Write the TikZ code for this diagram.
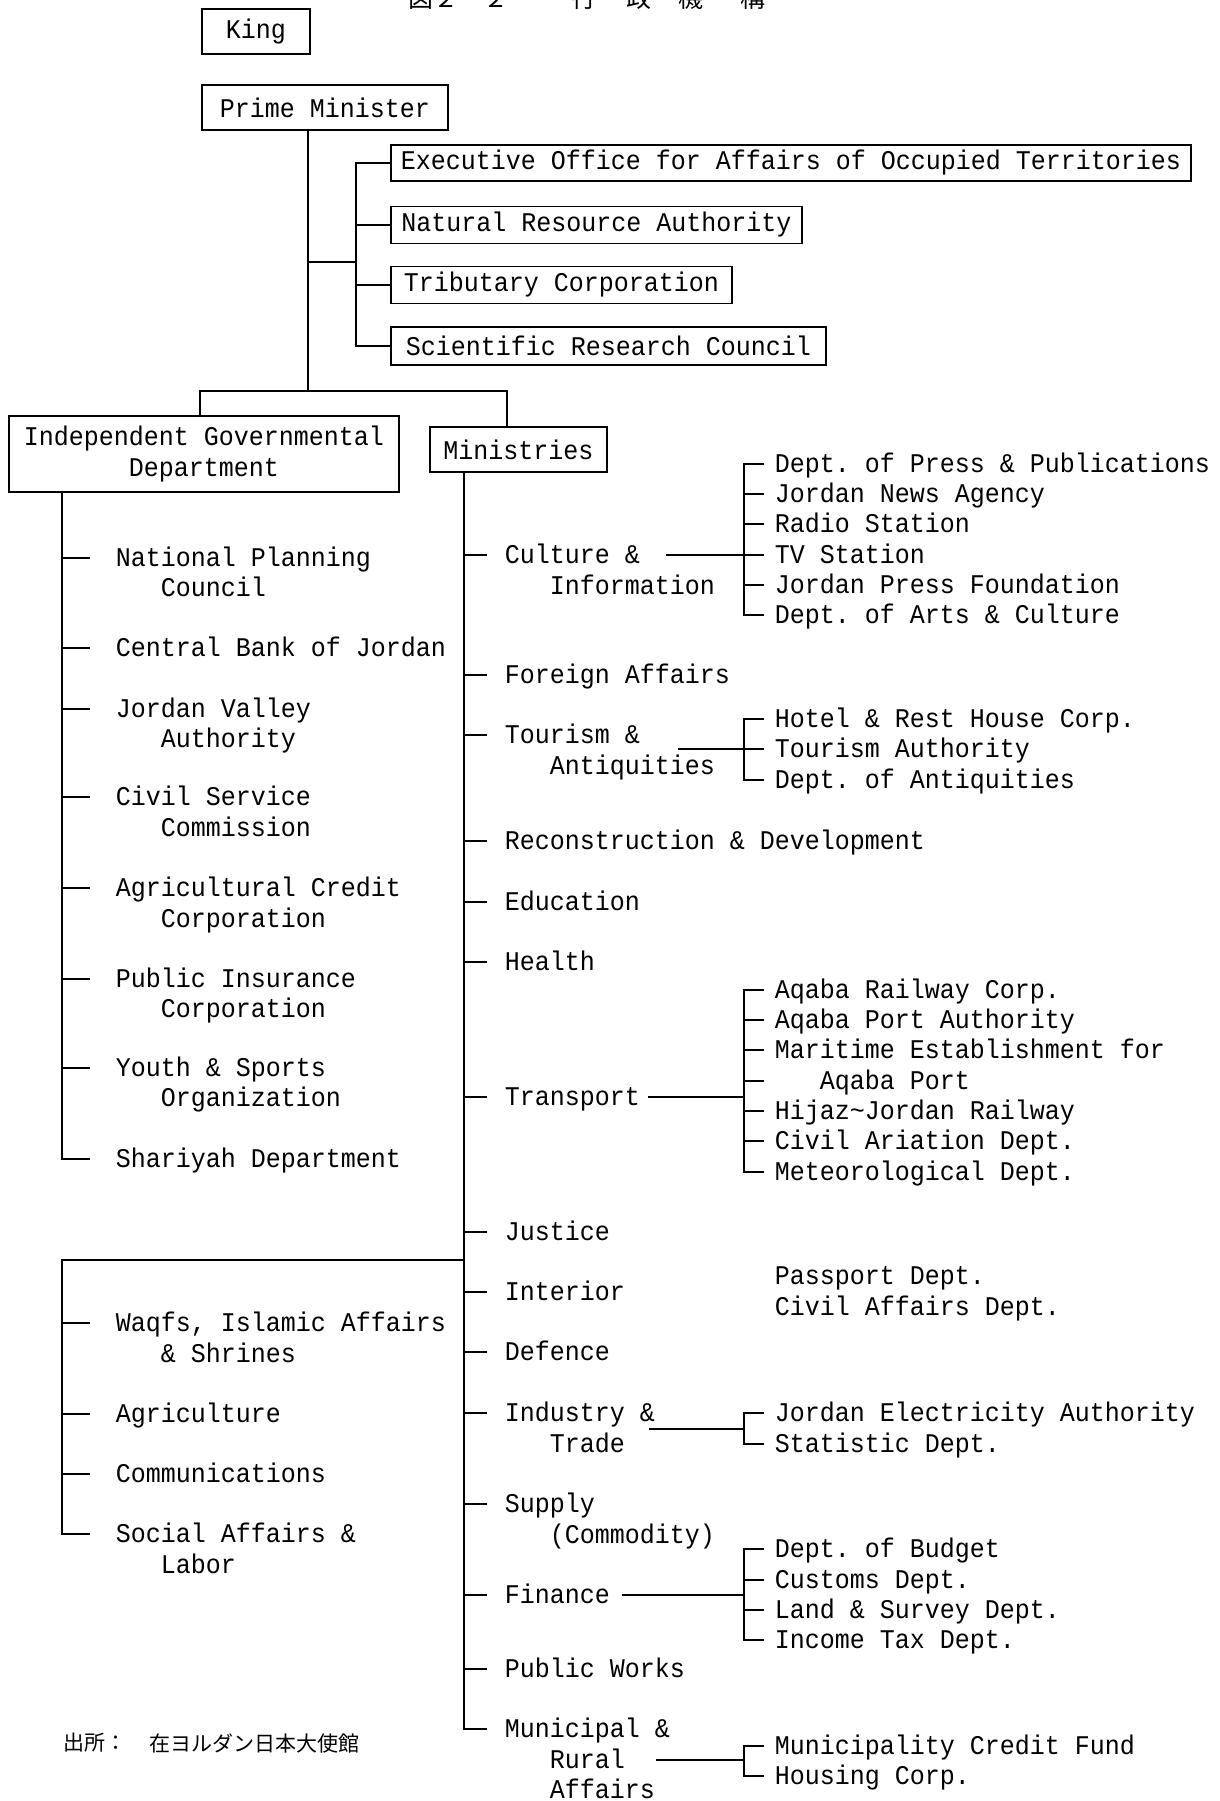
\documentclass[tikz,border=0pt]{standalone}
\usepackage{fontspec}
\setmainfont[FakeStretch=0.926]{Liberation Mono}
\newfontfamily\jpfont{Noto Sans CJK JP}
\newcommand\mfs{\fontsize{27}{31}\selectfont}
\frenchspacing
\begin{document}
\begin{tikzpicture}[x=1pt,y=-1pt,line width=1.6pt,
  box/.style={draw, inner sep=0pt, font=\mfs},
  lbl/.style={anchor=west, inner sep=0pt, font=\mfs, text height=17pt, text depth=0pt},
  jp/.style={inner sep=0pt, font=\jpfont\fontsize{25}{25}\selectfont, anchor=base}]
\useasboundingbox (0,0) rectangle (1220,1801);
% title (cut at top, as in the source)
\node[jp, anchor=base west] (t0) at (408,8) {図２－２};
\node[jp] (t1) at (584,8) {行};
\node[jp] (t2) at (639,8) {政};
\node[jp] (t3) at (691,8) {機};
\node[jp] (t4) at (753,8) {構};
% top boxes
\node[box, minimum width=108pt, minimum height=45pt] (king) at (256,31.5) {King};
\node[box, minimum width=246pt, minimum height=45pt] (pm) at (325,107.5) {Prime Minister};
\node[box, minimum width=800pt, minimum height=36pt] (exec) at (791,163) {Executive Office for Affairs of Occupied Territories};
\node[box, minimum width=411pt, minimum height=37pt] (nat) at (596.5,225) {Natural Resource Authority};
\node[box, minimum width=341pt, minimum height=37pt] (trib) at (561.5,285) {Tributary Corporation};
\node[box, minimum width=435pt, minimum height=38pt] (sci) at (608.5,346) {Scientific Research Council};
\node[box, minimum width=390pt, minimum height=76pt, align=center] (ind) at (204,454) {Independent Governmental\\Department};
\node[box, minimum width=177pt, minimum height=45pt] (min) at (518.5,449.5) {Ministries};
% top connectors
\coordinate (pmt) at (308,130);
\coordinate (barL) at (200,391);
\coordinate (barR) at (507,391);
\coordinate (sv) at (356,262);
\draw (pmt) -- (pmt |- barL);
\draw (ind.north -| barL) -- (barL) -- (barR) -- (min.north -| barR);
\draw (pmt |- sv) -- (sv);
\draw (exec.west) -- (exec.west -| sv) -- (sci.west -| sv) -- (sci.west);
\draw (nat.west) -- (nat.west -| sv);
\draw (trib.west) -- (trib.west -| sv);
% independent departments
\node[lbl] (ip1) at (115,558) {National Planning};
\node[lbl] (ip1b) at (160,588) {Council};
\node[lbl] (ip2) at (115,648) {Central Bank of Jordan};
\node[lbl] (ip3) at (115,709) {Jordan Valley};
\node[lbl] (ip3b) at (160,739) {Authority};
\node[lbl] (ip4) at (115,797) {Civil Service};
\node[lbl] (ip4b) at (160,828) {Commission};
\node[lbl] (ip5) at (115,888) {Agricultural Credit};
\node[lbl] (ip5b) at (160,919) {Corporation};
\node[lbl] (ip6) at (115,979) {Public Insurance};
\node[lbl] (ip6b) at (160,1009) {Corporation};
\node[lbl] (ip7) at (115,1068) {Youth \& Sports};
\node[lbl] (ip7b) at (160,1098) {Organization};
\node[lbl] (ip8) at (115,1159) {Shariyah Department};
\coordinate (lt) at (62,492);
\draw (lt) -- (lt |- ip8.west) -- ([xshift=-25pt]ip8.west);
\foreach \n in {ip1,ip2,ip3,ip4,ip5,ip6,ip7}
  \draw (lt |- \n.west) -- ([xshift=-25pt]\n.west);
% ministries
\node[lbl] (m1) at (504,555) {Culture \&};
\node[lbl] (m1b) at (549,586) {Information};
\node[lbl] (m2) at (504,675) {Foreign Affairs};
\node[lbl] (m3) at (504,735) {Tourism \&};
\node[lbl] (m3b) at (549,766) {Antiquities};
\node[lbl] (m4) at (504,841) {Reconstruction \& Development};
\node[lbl] (m5) at (504,902) {Education};
\node[lbl] (m6) at (504,962) {Health};
\node[lbl] (m7) at (504,1097) {Transport};
\node[lbl] (m8) at (504,1232) {Justice};
\node[lbl] (m9) at (504,1292) {Interior};
\node[lbl] (m10) at (504,1352) {Defence};
\node[lbl] (m11) at (504,1413) {Industry \&};
\node[lbl] (m11b) at (549,1444) {Trade};
\node[lbl] (m12) at (504,1504) {Supply};
\node[lbl] (m12b) at (549,1535) {(Commodity)};
\node[lbl] (m13) at (504,1595) {Finance};
\node[lbl] (m14) at (504,1669) {Public Works};
\node[lbl] (m15) at (504,1729) {Municipal \&};
\node[lbl] (m15b) at (549,1760) {Rural};
\node[lbl] (m15c) at (549,1790) {Affairs};
\coordinate (mt) at (464,472);
\draw (mt) -- (mt |- m15.west) -- ([xshift=-17pt]m15.west);
\foreach \n in {m1,m2,m3,m4,m5,m6,m7,m8,m9,m10,m11,m12,m13,m14}
  \draw (mt |- \n.west) -- ([xshift=-17pt]\n.west);
% second group of the left
\node[lbl] (g1) at (115,1323) {Waqfs, Islamic Affairs};
\node[lbl] (g1b) at (160,1354) {\& Shrines};
\node[lbl] (g2) at (115,1414) {Agriculture};
\node[lbl] (g3) at (115,1474) {Communications};
\node[lbl] (g4) at (115,1534) {Social Affairs \&};
\node[lbl] (g4b) at (160,1565) {Labor};
\coordinate (gc) at (62,1260);
\draw (mt |- gc) -- (gc) -- (gc |- g4.west) -- ([xshift=-25pt]g4.west);
\foreach \n in {g1,g2,g3}
  \draw (gc |- \n.west) -- ([xshift=-25pt]\n.west);
% sub units
\node[lbl] (c1) at (774,464) {Dept. of Press \& Publications};
\node[lbl] (c2) at (774,494) {Jordan News Agency};
\node[lbl] (c3) at (774,524) {Radio Station};
\node[lbl] (c4) at (774,555) {TV Station};
\node[lbl] (c5) at (774,585) {Jordan Press Foundation};
\node[lbl] (c6) at (774,615) {Dept. of Arts \& Culture};
\node[lbl] (r1) at (774,719) {Hotel \& Rest House Corp.};
\node[lbl] (r2) at (774,749) {Tourism Authority};
\node[lbl] (r3) at (774,780) {Dept. of Antiquities};
\node[lbl] (tr1) at (774,990) {Aqaba Railway Corp.};
\node[lbl] (tr2) at (774,1020) {Aqaba Port Authority};
\node[lbl] (tr3) at (774,1050) {Maritime Establishment for};
\node[lbl] (tr3b) at (819,1081) {Aqaba Port};
\coordinate (tr3c) at (774,1081);
\node[lbl] (tr4) at (774,1111) {Hijaz\textasciitilde Jordan Railway};
\node[lbl] (tr5) at (774,1141) {Civil Ariation Dept.};
\node[lbl] (tr6) at (774,1172) {Meteorological Dept.};
\node[lbl] (pa1) at (774,1276) {Passport Dept.};
\node[lbl] (pa2) at (774,1307) {Civil Affairs Dept.};
\node[lbl] (i1) at (774,1413) {Jordan Electricity Authority};
\node[lbl] (i2) at (774,1444) {Statistic Dept.};
\node[lbl] (f1) at (774,1549) {Dept. of Budget};
\node[lbl] (f2) at (774,1580) {Customs Dept.};
\node[lbl] (f3) at (774,1610) {Land \& Survey Dept.};
\node[lbl] (f4) at (774,1640) {Income Tax Dept.};
\node[lbl] (u1) at (774,1746) {Municipality Credit Fund};
\node[lbl] (u2) at (774,1776) {Housing Corp.};
% brackets
\newcommand\brk[2]{\draw ([xshift=-10pt]#1.west) -- ([xshift=-30pt]#1.west) -- ([xshift=-30pt]#2.west) -- ([xshift=-10pt]#2.west);}
\newcommand\tck[1]{\draw ([xshift=-10pt]#1.west) -- ([xshift=-30pt]#1.west);}
\brk{c1}{c6}
\foreach \n in {c2,c3,c4,c5} {\tck{\n}}
\brk{r1}{r3}
\tck{r2}
\brk{tr1}{tr6}
\foreach \n in {tr2,tr3,tr3c,tr4,tr5} {\tck{\n}}
\brk{i1}{i2}
\brk{f1}{f4}
\foreach \n in {f2,f3} {\tck{\n}}
\brk{u1}{u2}
% feeders
\coordinate (cb) at (744,0);
\coordinate (rs) at (678,749);
\coordinate (is) at (649,1429);
\coordinate (us) at (656,1760);
\draw ([xshift=25pt]m1.east) -- (cb |- m1.east);
\draw (rs) -- (cb |- rs);
\draw ([xshift=7pt]m7.east) -- (cb |- m7.east);
\draw (is) -- (cb |- is);
\draw ([xshift=11pt]m13.east) -- (cb |- m13.east);
\draw (us) -- (cb |- us);
% source
\node[jp, anchor=west, font=\jpfont\fontsize{21}{21}\selectfont] (src1) at (63,1743) {出所：};
\node[jp, anchor=west, font=\jpfont\fontsize{21}{21}\selectfont] (src2) at (149,1743) {在ヨルダン日本大使館};
\end{tikzpicture}
\end{document}
